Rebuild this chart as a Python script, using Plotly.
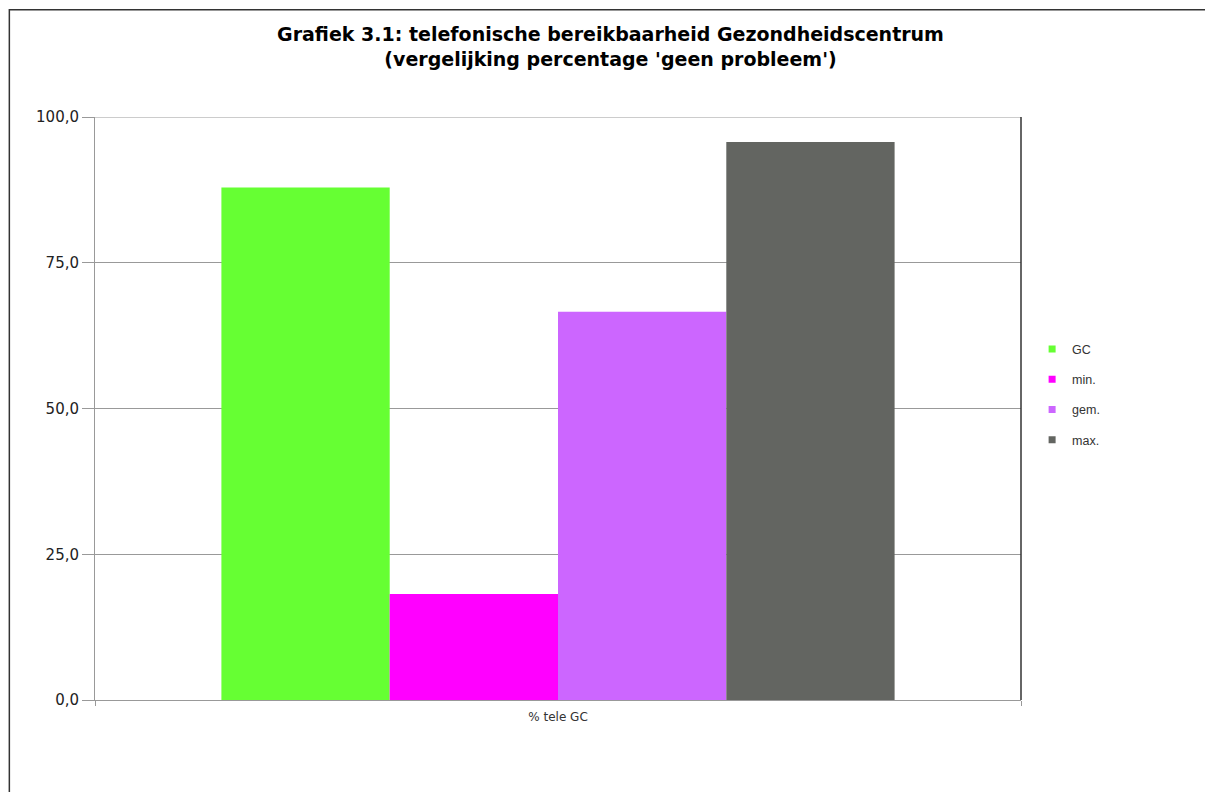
import plotly.graph_objects as go

categories = ["% tele GC"]
series_names = ["GC", "min.", "gem.", "max."]
series_values = [[87.9], [18.2], [66.6], [95.7]]
series_colors = ["#66FF33", "#FF00FF", "#CC66FF", "#636561"]
y_ticks = [0, 25, 50, 75, 100]

fig = go.Figure()
for name, vals, col in zip(series_names, series_values, series_colors):
    fig.add_trace(go.Bar(x=categories, y=vals, name=name, marker=dict(color=col, line=dict(width=0)),
                         showlegend=False))
# legend entries with small square swatches
for name, col in zip(series_names, series_colors):
    fig.add_trace(go.Scatter(x=[None], y=[None], mode="markers", name=name, legendgroup=name,
                             marker=dict(symbol="square", size=7, color=col)))

fig.update_layout(
    width=1205, height=784,
    paper_bgcolor="white", plot_bgcolor="white",
    margin=dict(l=87, r=192, t=109, b=92),
    barmode="group", bargap=0.273, bargroupgap=0,
    separators=",.",
    title=dict(text="<b>Grafiek 3.1: telefonische bereikbaarheid Gezondheidscentrum<br>(vergelijking percentage 'geen probleem')</b>",
               x=0.5, xanchor="center", xref="container", y=1 - 33 / 784, yanchor="top", yref="container",
               font=dict(family="DejaVu Sans", size=19, color="black")),
    font=dict(family="DejaVu Sans", color="#222222"),
    showlegend=True,
    legend=dict(x=1.012, y=0.627, xanchor="left", yanchor="top", font=dict(family="Liberation Sans", size=12.5, color="#333333"),
                tracegroupgap=11, traceorder="grouped", itemwidth=30, bgcolor="rgba(0,0,0,0)"),
    xaxis=dict(showline=True, linecolor="#999999", linewidth=1, ticks="outside", tickson="boundaries",
               ticklen=5, tickcolor="#999999", tickfont=dict(family="DejaVu Sans", size=12, color="#333333"),
               ticklabelstandoff=6, showgrid=False),
    yaxis=dict(range=[0, 100], tickvals=y_ticks, tickformat=".1f", showline=True, linecolor="#999999", linewidth=1,
               ticks="outside", ticklen=12, tickcolor="#999999", showgrid=True, gridcolor="#999999", gridwidth=1,
               tickfont=dict(family="DejaVu Sans", size=15, color="#222222"), zeroline=False),
    shapes=[
        dict(type="rect", xref="paper", yref="paper", x0=-0.0925, x1=1.25, y0=-0.2, y1=1.184,
             line=dict(color="#333333", width=1.5), fillcolor="rgba(0,0,0,0)", layer="below"),
        dict(type="line", xref="paper", yref="y", x0=0, x1=1, y0=100, y1=100,
             line=dict(color="#999999", width=1), layer="below"),
        dict(type="line", xref="paper", yref="paper", x0=1, x1=1, y0=0, y1=1,
             line=dict(color="#333333", width=1.5), layer="above"),
    ],
)

fig.write_html("out.html")
